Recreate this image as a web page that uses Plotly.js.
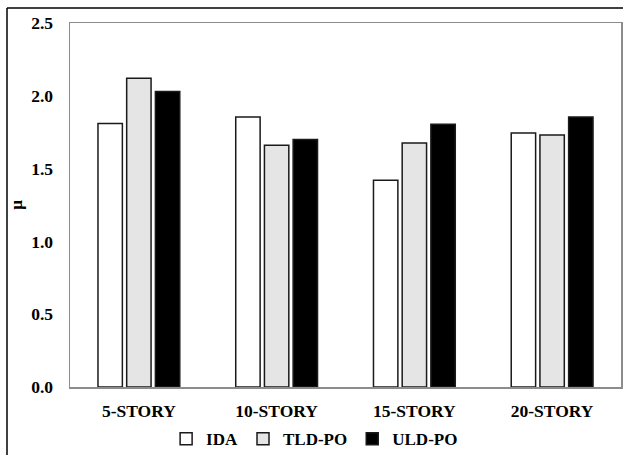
<!DOCTYPE html>
<html>
<head>
<meta charset="utf-8">
<script src="https://cdn.plot.ly/plotly-3.0.1.min.js"></script>
<style>html,body{margin:0;padding:0;background:#fff}#chart{width:623px;height:455px}</style>
</head>
<body>
<div id="chart"></div>
<script>
var categories = ['5-STORY', '10-STORY', '15-STORY', '20-STORY'];
var seriesNames = ['IDA', 'TLD-PO', 'ULD-PO'];
var idaValues = [1.81, 1.855, 1.42, 1.745];
var tldValues = [2.12, 1.66, 1.675, 1.73];
var uldValues = [2.03, 1.70, 1.805, 1.855];
var yTickVals = [0, 0.5, 1.0, 1.5, 2.0, 2.5];

var fillColors = ['#ffffff', '#e5e5e5', '#000000'];
var allValues = [idaValues, tldValues, uldValues];
var FONT = '"Liberation Serif", "Times New Roman", Times, serif';

var traces = allValues.map(function (vals, i) {
  return {
    type: 'bar',
    name: seriesNames[i],
    x: categories,
    y: vals,
    marker: {color: fillColors[i], line: {color: '#1a1a1a', width: 1.5}},
    hoverinfo: 'x+y+name'
  };
});

var L = 70, R = 2, T = 23, B = 68, W = 623, H = 455;
var pw = W - L - R, ph = H - T - B;
function px2x(px) { return (px - L) / pw; }
function py2y(py) { return (H - B - py) / ph; }

var layout = {
  width: W, height: H,
  margin: {l: L, r: R, t: T, b: B},
  paper_bgcolor: '#ffffff', plot_bgcolor: '#ffffff',
  font: {family: FONT, size: 17, color: '#000', weight: 'bold'},
  barmode: 'group', bargap: 0.375, bargroupgap: 0.15,
  showlegend: true,
  legend: {orientation: 'h', xref: 'container', x: 0.505, xanchor: 'center',
           yref: 'container', y: 0.035, yanchor: 'middle',
           font: {family: FONT, size: 17, color: '#000', weight: 'bold'},
           itemwidth: 30, traceorder: 'normal'},
  xaxis: {type: 'category', showline: true, mirror: true, linecolor: '#8c8c8c', linewidth: 1.5,
          ticks: '', showgrid: false, zeroline: false, ticklabelstandoff: 7,
          tickfont: {family: FONT, size: 17.5, color: '#000', weight: 'bold'}},
  yaxis: {range: [0, 2.5], tickvals: yTickVals, tickformat: '.1f', showline: true, mirror: true,
          linecolor: '#8c8c8c', linewidth: 1.5, ticks: '', showgrid: false, zeroline: false,
          ticklabelstandoff: 12,
          tickfont: {family: FONT, size: 17.5, color: '#000', weight: 'bold'},
          title: {text: 'μ', standoff: 4, font: {family: FONT, size: 17, color: '#000', weight: 'bold'}}},
  shapes: [
    {type: 'line', xref: 'paper', yref: 'paper', x0: px2x(7), x1: px2x(7), y0: py2y(8), y1: py2y(470),
     line: {color: '#000', width: 1.5}},
    {type: 'line', xref: 'paper', yref: 'paper', x0: px2x(7), x1: px2x(640), y0: py2y(8), y1: py2y(8),
     line: {color: '#000', width: 1.5}}
  ]
};

Plotly.newPlot('chart', traces, layout, {displayModeBar: false, staticPlot: true});
</script>
</body>
</html>
